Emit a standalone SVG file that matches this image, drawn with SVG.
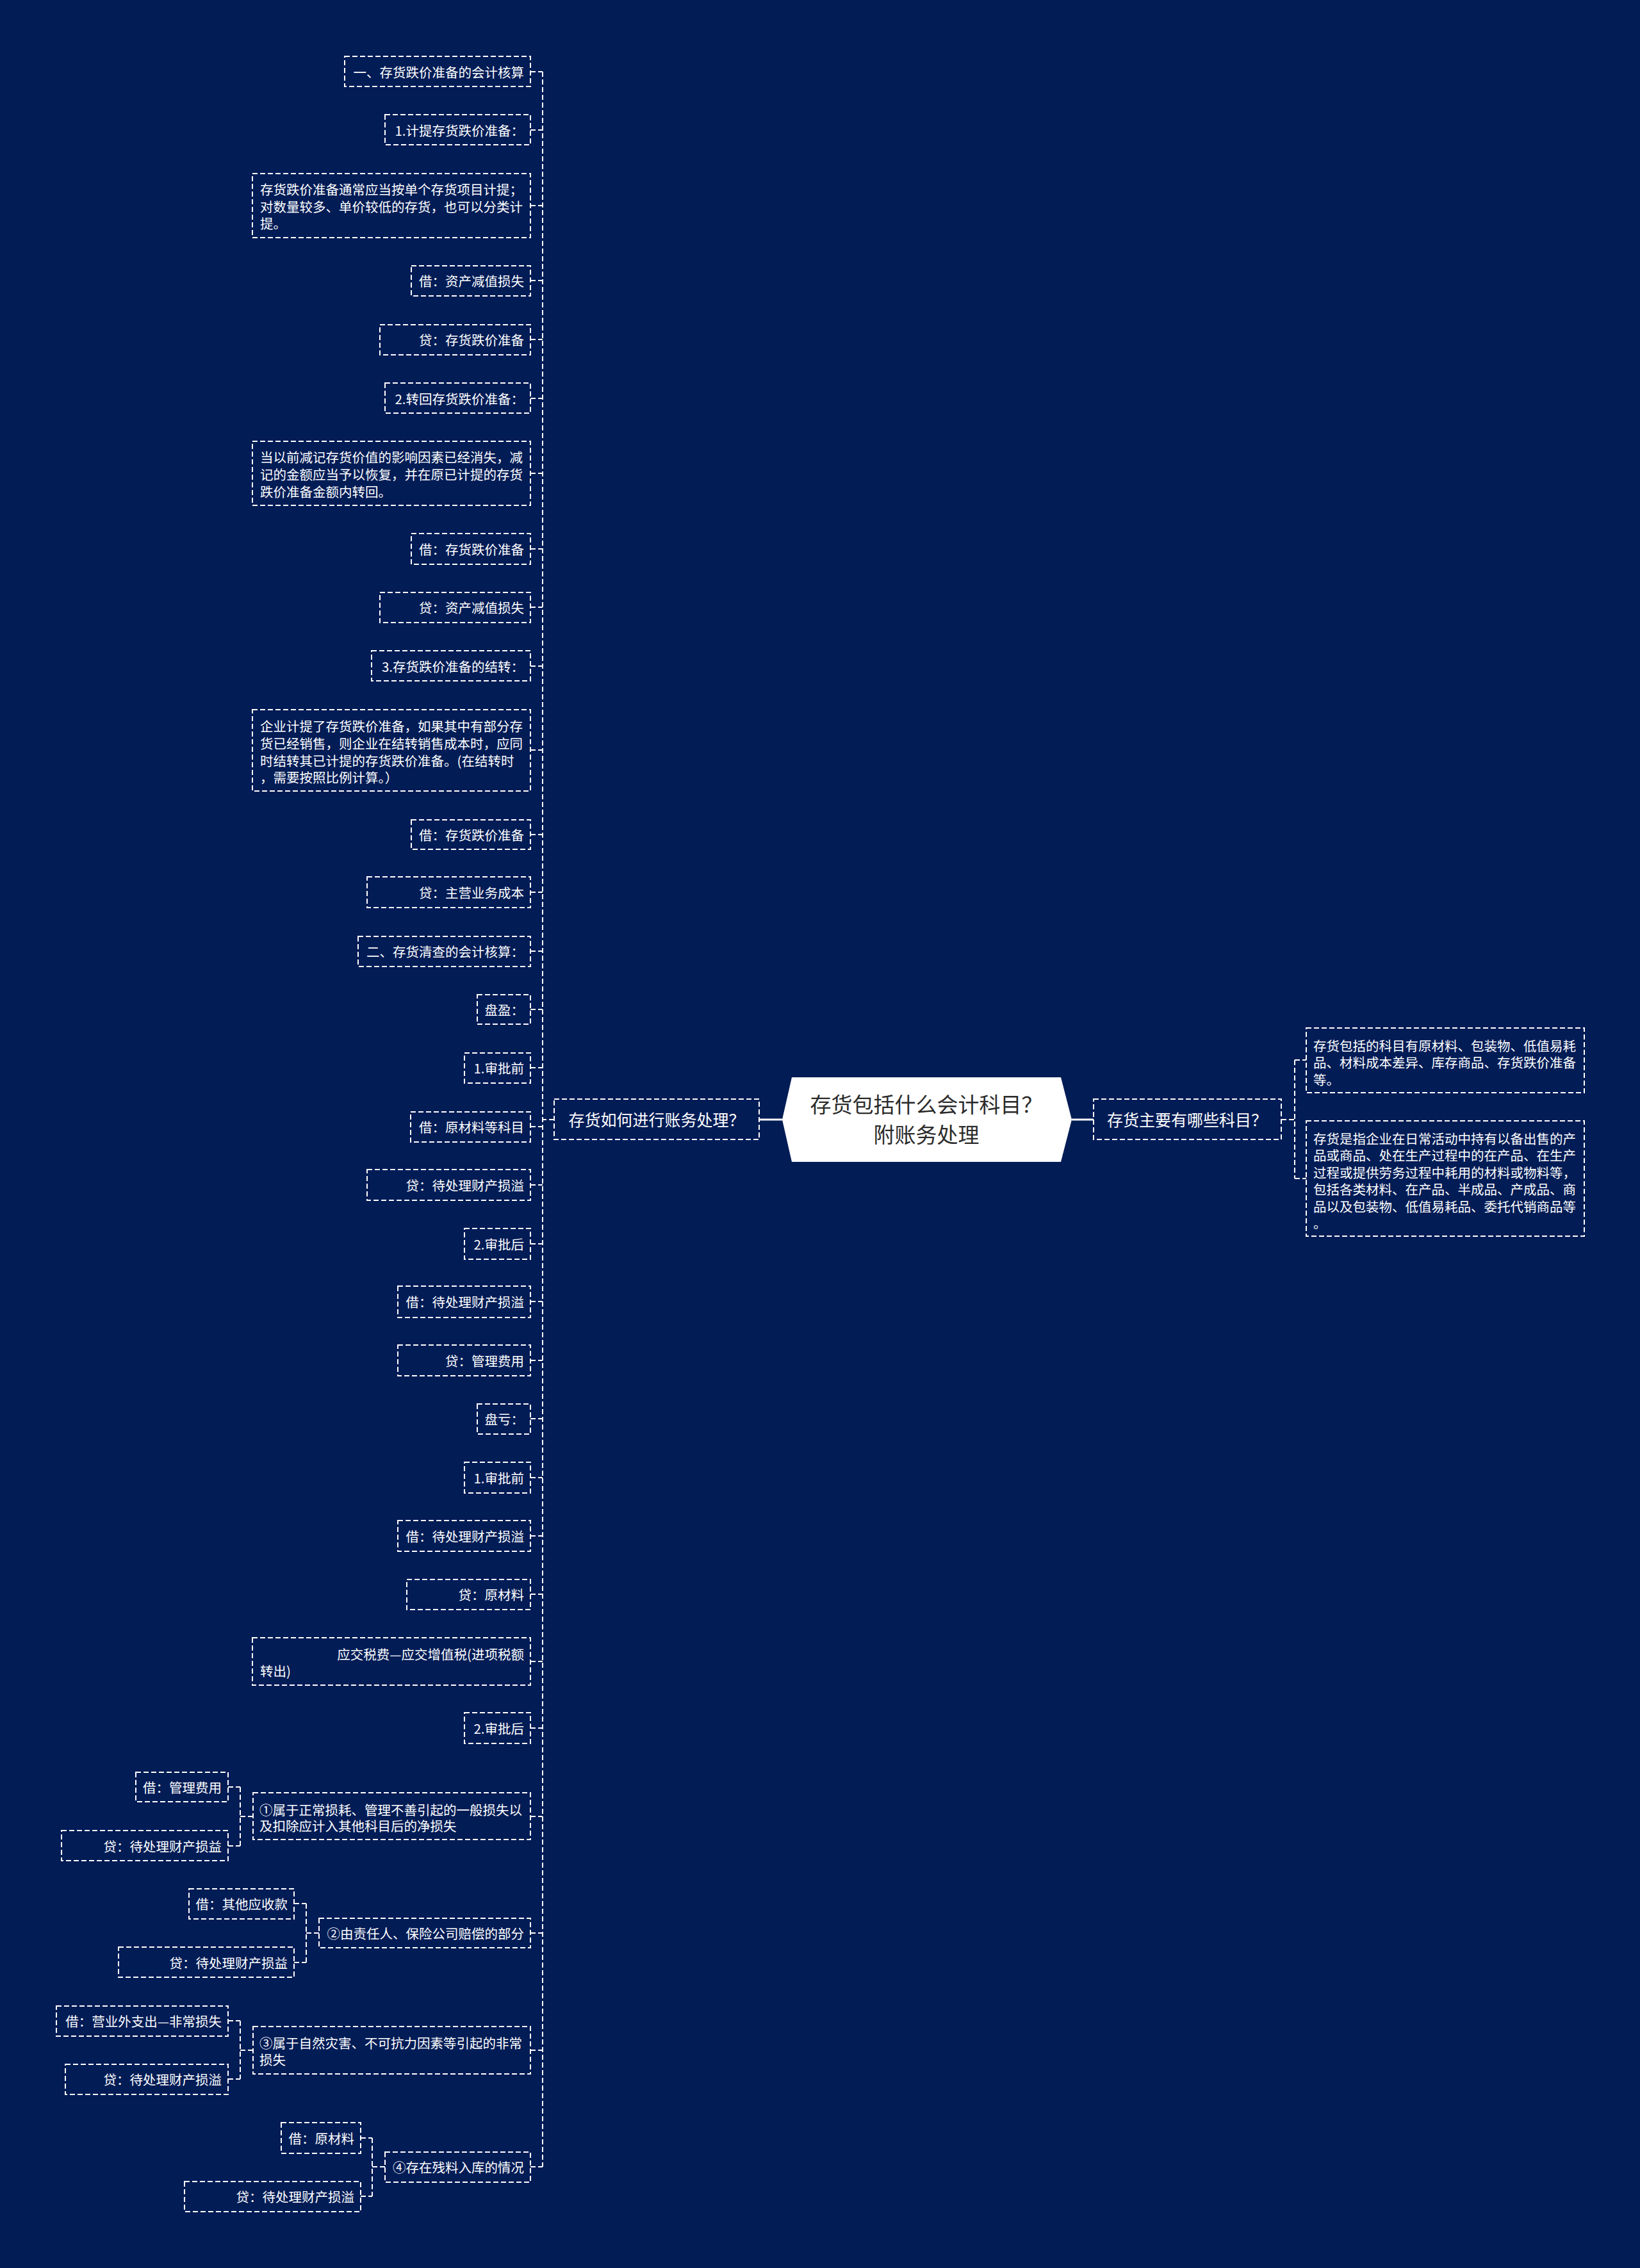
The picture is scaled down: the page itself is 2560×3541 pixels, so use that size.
<svg xmlns="http://www.w3.org/2000/svg" width="2560" height="3541" viewBox="0 0 2560 3541">
<style>
.bg{fill:#021c56}
.box{fill:none;stroke:#ffffff;stroke-width:2;stroke-dasharray:8 4}
.ln{fill:none;stroke:#ffffff;stroke-width:2;stroke-dasharray:8 4}
.sl{fill:none;stroke:#ffffff;stroke-width:3}
text{font-family:"Noto Sans CJK SC","Noto Sans",sans-serif;dominant-baseline:central}
.t{font-size:20.5px;fill:#ffffff}
.r{text-anchor:end}
.m{font-size:25px;fill:#ffffff;text-anchor:middle}
.ct{font-size:33px;fill:#2b2b2b;text-anchor:middle}
</style>
<rect class="bg" x="0" y="0" width="2560" height="3541"/>

<g id="connectors">
  <line class="sl" x1="1185" y1="1748" x2="1221" y2="1748"/>
  <line class="sl" x1="1673" y1="1748" x2="1707" y2="1748"/>
  <path class="ln" d="M2000 1748 H2021 M2021 1655 V1840 M2021 1655 H2039 M2021 1840 H2039"/>
  <path class="ln" d="M865 1748 H847 M847 112 V3383"/>
  <path class="ln" d="M828 112 H847 M828 203 H847 M828 321 H847 M828 438 H847 M828 530 H847 M828 622 H847 M828 739 H847 M828 857 H847 M828 948 H847 M828 1040 H847 M828 1171 H847 M828 1303 H847 M828 1393 H847 M828 1485 H847 M828 1576 H847 M828 1667 H847 M828 1759 H847 M828 1850 H847 M828 1942 H847 M828 2032 H847 M828 2124 H847 M828 2215 H847 M828 2307 H847 M828 2398 H847 M828 2489 H847 M828 2594 H847 M828 2698 H847 M828 2836 H847 M828 3018 H847 M828 3201 H847 M828 3383 H847"/>
  <path class="ln" d="M395 2836 H375 M375 2790 V2882 M356 2790 H375 M356 2882 H375"/>
  <path class="ln" d="M498 3018 H478 M478 2972 V3064 M459 2972 H478 M459 3064 H478"/>
  <path class="ln" d="M395 3201 H375 M375 3155 V3246 M356 3155 H375 M356 3246 H375"/>
  <path class="ln" d="M601 3383 H581 M581 3338 V3429 M563 3338 H581 M563 3429 H581"/>
</g>

<g id="root">
  <polygon points="1221,1748 1236,1682 1656,1682 1673,1748 1656,1814 1236,1814" fill="#ffffff"/>
  <text class="ct" x="1446" y="1723">存货包括什么会计科目？</text>
  <text class="ct" x="1446" y="1770">附账务处理</text>
</g>

<g id="n-left">
  <rect class="box" x="865" y="1716" width="320" height="63"/>
  <text class="m" x="1025" y="1747">存货如何进行账务处理？</text>
</g>
<g id="n-right">
  <rect class="box" x="1707" y="1716" width="293" height="63"/>
  <text class="m" x="1853" y="1747">存货主要有哪些科目？</text>
</g>

<g id="r1">
  <rect class="box" x="2039" y="1605" width="434" height="101"/>
  <text class="t" x="2050" y="1632">存货包括的科目有原材料、包装物、低值易耗</text>
  <text class="t" x="2050" y="1658">品、材料成本差异、库存商品、存货跌价准备</text>
  <text class="t" x="2050" y="1685">等。</text>
</g>
<g id="r2">
  <rect class="box" x="2039" y="1750" width="434" height="180"/>
  <text class="t" x="2050" y="1777">存货是指企业在日常活动中持有以备出售的产</text>
  <text class="t" x="2050" y="1803">品或商品、处在生产过程中的在产品、在生产</text>
  <text class="t" x="2050" y="1830">过程或提供劳务过程中耗用的材料或物料等，</text>
  <text class="t" x="2050" y="1856">包括各类材料、在产品、半成品、产成品、商</text>
  <text class="t" x="2050" y="1883">品以及包装物、低值易耗品、委托代销商品等</text>
  <text class="t" x="2050" y="1909">。</text>
</g>

<g id="l1"><rect class="box" x="538" y="88" width="290" height="47"/><text class="t r" x="818" y="112">一、存货跌价准备的会计核算</text></g>
<g id="l2"><rect class="box" x="601" y="179" width="227" height="47"/><text class="t r" x="818" y="203">1.计提存货跌价准备：</text></g>
<g id="l3"><rect class="box" x="394" y="271" width="434" height="100"/>
  <text class="t" x="406" y="295">存货跌价准备通常应当按单个存货项目计提；</text>
  <text class="t" x="406" y="322">对数量较多、单价较低的存货，也可以分类计</text>
  <text class="t" x="406" y="348">提。</text></g>
<g id="l4"><rect class="box" x="642" y="415" width="186" height="47"/><text class="t r" x="818" y="438">借：资产减值损失</text></g>
<g id="l5"><rect class="box" x="593" y="507" width="235" height="47"/><text class="t r" x="818" y="530">贷：存货跌价准备</text></g>
<g id="l6"><rect class="box" x="601" y="598" width="227" height="47"/><text class="t r" x="818" y="622">2.转回存货跌价准备：</text></g>
<g id="l7"><rect class="box" x="394" y="689" width="434" height="100"/>
  <text class="t" x="406" y="713">当以前减记存货价值的影响因素已经消失，减</text>
  <text class="t" x="406" y="740">记的金额应当予以恢复，并在原已计提的存货</text>
  <text class="t" x="406" y="767">跌价准备金额内转回。</text></g>
<g id="l8"><rect class="box" x="642" y="833" width="186" height="48"/><text class="t r" x="818" y="857">借：存货跌价准备</text></g>
<g id="l9"><rect class="box" x="593" y="925" width="235" height="47"/><text class="t r" x="818" y="948">贷：资产减值损失</text></g>
<g id="l10"><rect class="box" x="580" y="1016" width="248" height="47"/><text class="t r" x="818" y="1040">3.存货跌价准备的结转：</text></g>
<g id="l11"><rect class="box" x="394" y="1108" width="434" height="127"/>
  <text class="t" x="406" y="1133">企业计提了存货跌价准备，如果其中有部分存</text>
  <text class="t" x="406" y="1160">货已经销售，则企业在结转销售成本时，应同</text>
  <text class="t" x="406" y="1187">时结转其已计提的存货跌价准备。(在结转时</text>
  <text class="t" x="406" y="1213">，需要按照比例计算。）</text></g>
<g id="l12"><rect class="box" x="642" y="1280" width="186" height="46"/><text class="t r" x="818" y="1303">借：存货跌价准备</text></g>
<g id="l13"><rect class="box" x="573" y="1369" width="255" height="48"/><text class="t r" x="818" y="1393">贷：主营业务成本</text></g>
<g id="l14"><rect class="box" x="559" y="1462" width="269" height="47"/><text class="t r" x="818" y="1485">二、存货清查的会计核算：</text></g>
<g id="l15"><rect class="box" x="745" y="1553" width="83" height="46"/><text class="t r" x="818" y="1576">盘盈：</text></g>
<g id="l16"><rect class="box" x="725" y="1644" width="103" height="47"/><text class="t r" x="818" y="1667">1.审批前</text></g>
<g id="l17"><rect class="box" x="641" y="1736" width="187" height="47"/><text class="t r" x="818" y="1759">借：原材料等科目</text></g>
<g id="l18"><rect class="box" x="573" y="1826" width="255" height="48"/><text class="t r" x="818" y="1850">贷：待处理财产损溢</text></g>
<g id="l19"><rect class="box" x="725" y="1918" width="103" height="48"/><text class="t r" x="818" y="1942">2.审批后</text></g>
<g id="l20"><rect class="box" x="621" y="2008" width="207" height="49"/><text class="t r" x="818" y="2032">借：待处理财产损溢</text></g>
<g id="l21"><rect class="box" x="621" y="2100" width="207" height="48"/><text class="t r" x="818" y="2124">贷：管理费用</text></g>
<g id="l22"><rect class="box" x="745" y="2192" width="83" height="47"/><text class="t r" x="818" y="2215">盘亏：</text></g>
<g id="l23"><rect class="box" x="725" y="2283" width="103" height="48"/><text class="t r" x="818" y="2307">1.审批前</text></g>
<g id="l24"><rect class="box" x="621" y="2374" width="207" height="48"/><text class="t r" x="818" y="2398">借：待处理财产损溢</text></g>
<g id="l25"><rect class="box" x="635" y="2466" width="193" height="47"/><text class="t r" x="818" y="2489">贷：原材料</text></g>
<g id="l26"><rect class="box" x="394" y="2557" width="434" height="74"/>
  <text class="t r" x="818" y="2582">应交税费—应交增值税(进项税额</text>
  <text class="t" x="406" y="2608">转出)</text></g>
<g id="l27"><rect class="box" x="725" y="2674" width="103" height="48"/><text class="t r" x="818" y="2698">2.审批后</text></g>
<g id="l28"><rect class="box" x="395" y="2799" width="433" height="73"/>
  <text class="t" x="405" y="2825">①属于正常损耗、管理不善引起的一般损失以</text>
  <text class="t" x="405" y="2850">及扣除应计入其他科目后的净损失</text></g>
<g id="l28a"><rect class="box" x="212" y="2767" width="144" height="46"/><text class="t r" x="346" y="2790">借：管理费用</text></g>
<g id="l28b"><rect class="box" x="96" y="2858" width="260" height="47"/><text class="t r" x="346" y="2882">贷：待处理财产损益</text></g>
<g id="l30"><rect class="box" x="498" y="2995" width="330" height="46"/><text class="t r" x="818" y="3018">②由责任人、保险公司赔偿的部分</text></g>
<g id="l30a"><rect class="box" x="295" y="2949" width="164" height="47"/><text class="t r" x="449" y="2972">借：其他应收款</text></g>
<g id="l30b"><rect class="box" x="185" y="3040" width="274" height="47"/><text class="t r" x="449" y="3064">贷：待处理财产损益</text></g>
<g id="l33"><rect class="box" x="395" y="3164" width="433" height="74"/>
  <text class="t" x="405" y="3189">③属于自然灾害、不可抗力因素等引起的非常</text>
  <text class="t" x="405" y="3215">损失</text></g>
<g id="l33a"><rect class="box" x="88" y="3132" width="268" height="47"/><text class="t r" x="346" y="3155">借：营业外支出—非常损失</text></g>
<g id="l33b"><rect class="box" x="102" y="3223" width="254" height="47"/><text class="t r" x="346" y="3246">贷：待处理财产损溢</text></g>
<g id="l36"><rect class="box" x="601" y="3360" width="227" height="47"/><text class="t r" x="818" y="3383">④存在残料入库的情况</text></g>
<g id="l36a"><rect class="box" x="439" y="3314" width="124" height="48"/><text class="t r" x="553" y="3338">借：原材料</text></g>
<g id="l36b"><rect class="box" x="288" y="3406" width="275" height="47"/><text class="t r" x="553" y="3429">贷：待处理财产损溢</text></g>
</svg>
